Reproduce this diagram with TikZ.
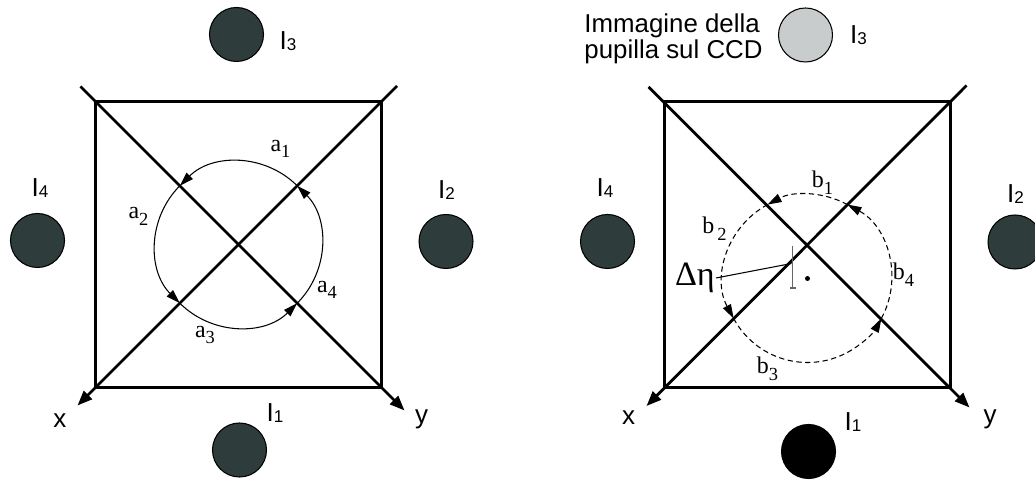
\documentclass[tikz,border=0pt]{standalone}
\usepackage{fontspec}
\setmainfont{Liberation Serif}
\newfontfamily\arialfont{Liberation Sans}
\usetikzlibrary{arrows.meta}

\definecolor{pupildark}{RGB}{46,60,60}
\definecolor{pupillight}{RGB}{200,204,204}
\newcommand{\Ilab}[1]{I\raisebox{-0.6pt}{\fontsize{9.7}{10}\selectfont #1}}
\newcommand{\seg}[2]{#1\raisebox{-3.8pt}{\fontsize{10.5}{10}\selectfont #2}}

\begin{document}
\begin{tikzpicture}[
  frame/.style={line width=1.6pt},
  axis/.style={line width=1.6pt, -{Triangle[length=8.5pt,width=6.5pt]}},
  orbit/.style={line width=0.6pt, -{Triangle[length=8pt,width=5pt]}},
  pupil/.style={circle, draw, line width=0.6pt, minimum size=1.08cm, inner sep=0pt},
  ilabel/.style={font=\arialfont\fontsize{14.8}{16}\selectfont, inner sep=0pt},
  seglabel/.style={font=\fontsize{13.6}{14}\selectfont, inner sep=0pt}
]
\useasboundingbox (0,0) rectangle (20.7,9.62);

% left: centred pupil
\coordinate (lc) at (4.77,4.73);
\draw[frame] (1.91,1.87) rectangle (7.63,7.59);
\coordinate (ltl) at (1.61,7.89);
\coordinate (lbr) at (8.09,1.41);
\coordinate (ltr) at (7.94,7.90);
\coordinate (lbl) at (1.55,1.51);
\draw[axis] (ltl) -- (lbr);
\draw[axis] (ltr) -- (lbl);
\foreach \s in {45,135,225,315}
  \draw[orbit] (lc) ++(\s:1.66) arc[start angle=\s, delta angle=90, radius=1.66];

\node[seglabel] (a1) at (5.61,6.64) {\seg{a}{1}};
\node[seglabel] (a2) at (2.77,5.29) {\seg{a}{2}};
\node[seglabel] (a3) at (4.10,2.92) {\seg{a}{3}};
\node[seglabel] (a4) at (6.54,3.82) {\seg{a}{4}};

\node[pupil, fill=pupildark] (lp3) at (4.73,8.93) {};
\node[pupil, fill=pupildark] (lp4) at (0.75,4.81) {};
\node[pupil, fill=pupildark] (lp2) at (8.92,4.79) {};
\node[pupil, fill=pupildark] (lp1) at (4.79,0.62) {};
\node[ilabel] (li3) at (5.76,8.80) {\Ilab{3}};
\node[ilabel] (li4) at (0.80,5.86) {\Ilab{4}};
\node[ilabel] (li2) at (8.93,5.82) {\Ilab{2}};
\node[ilabel] (li1) at (5.50,1.36) {\Ilab{1}};
\node[ilabel] (lx) at (1.20,1.20) {x};
\node[ilabel] (ly) at (8.43,1.24) {y};

% right: shifted pupil
\coordinate (rc) at (16.15,4.73);
\coordinate (rp) at (16.15,4.05);
\draw[frame] (13.29,1.87) rectangle (19.01,7.59);
\coordinate (rtl) at (12.97,7.88);
\coordinate (rbr) at (19.39,1.47);
\coordinate (rtr) at (19.33,7.91);
\coordinate (rbl) at (12.93,1.50);
\draw[axis] (rtl) -- (rbr);
\draw[axis] (rtr) -- (rbl);
\foreach \s/\e in {61.6/118.4,118.4/208.4,208.4/331.6,331.6/421.6}
  \draw[orbit, dash pattern=on 3pt off 2pt] (rp) ++(\s:1.68) arc[start angle=\s, end angle=\e, radius=1.68];
\fill (rp) circle (0.05);

\node[seglabel] (b1) at (16.45,5.97) {\seg{b}{1}};
\node[seglabel] (b2) at (14.29,5.05) {\seg{b}{\,2}};
\node[seglabel] (b3) at (15.35,2.24) {\seg{b}{3}};
\node[seglabel] (b4) at (18.07,4.13) {\seg{b}{4}};

\draw[gray!80!black, line width=0.6pt] (15.854,4.70) -- (15.854,3.86);
\draw[gray!80!black, line width=0.6pt] (15.80,3.86) -- (15.91,3.86);
\node[font=\fontsize{19.4}{20}\selectfont, inner sep=0.5pt, anchor=east] (deta) at (14.32,4.06) {Δη};
\coordinate (dend) at (15.83,4.35);
\draw[line width=0.6pt] (deta.east) -- (dend);

\node[font=\arialfont\fontsize{14.7}{14.6}\selectfont, align=left, inner sep=0pt] (ccd) at (13.47,8.84) {Immagine della\\pupilla sul CCD};
\node[pupil, fill=pupillight] (rp3) at (16.11,8.92) {};
\node[pupil, fill=pupildark] (rp4) at (12.15,4.79) {};
\node[pupil, fill=pupildark] (rp2) at (20.30,4.78) {};
\node[pupil, fill=black] (rp1) at (16.17,0.59) {};
\node[ilabel] (ri3) at (17.17,8.91) {\Ilab{3}};
\node[ilabel] (ri4) at (12.10,5.85) {\Ilab{4}};
\node[ilabel] (ri2) at (20.31,5.74) {\Ilab{2}};
\node[ilabel] (ri1) at (17.06,1.17) {\Ilab{1}};
\node[ilabel] (rx) at (12.57,1.27) {x};
\node[ilabel] (ry) at (19.80,1.24) {y};
\end{tikzpicture}
\end{document}
